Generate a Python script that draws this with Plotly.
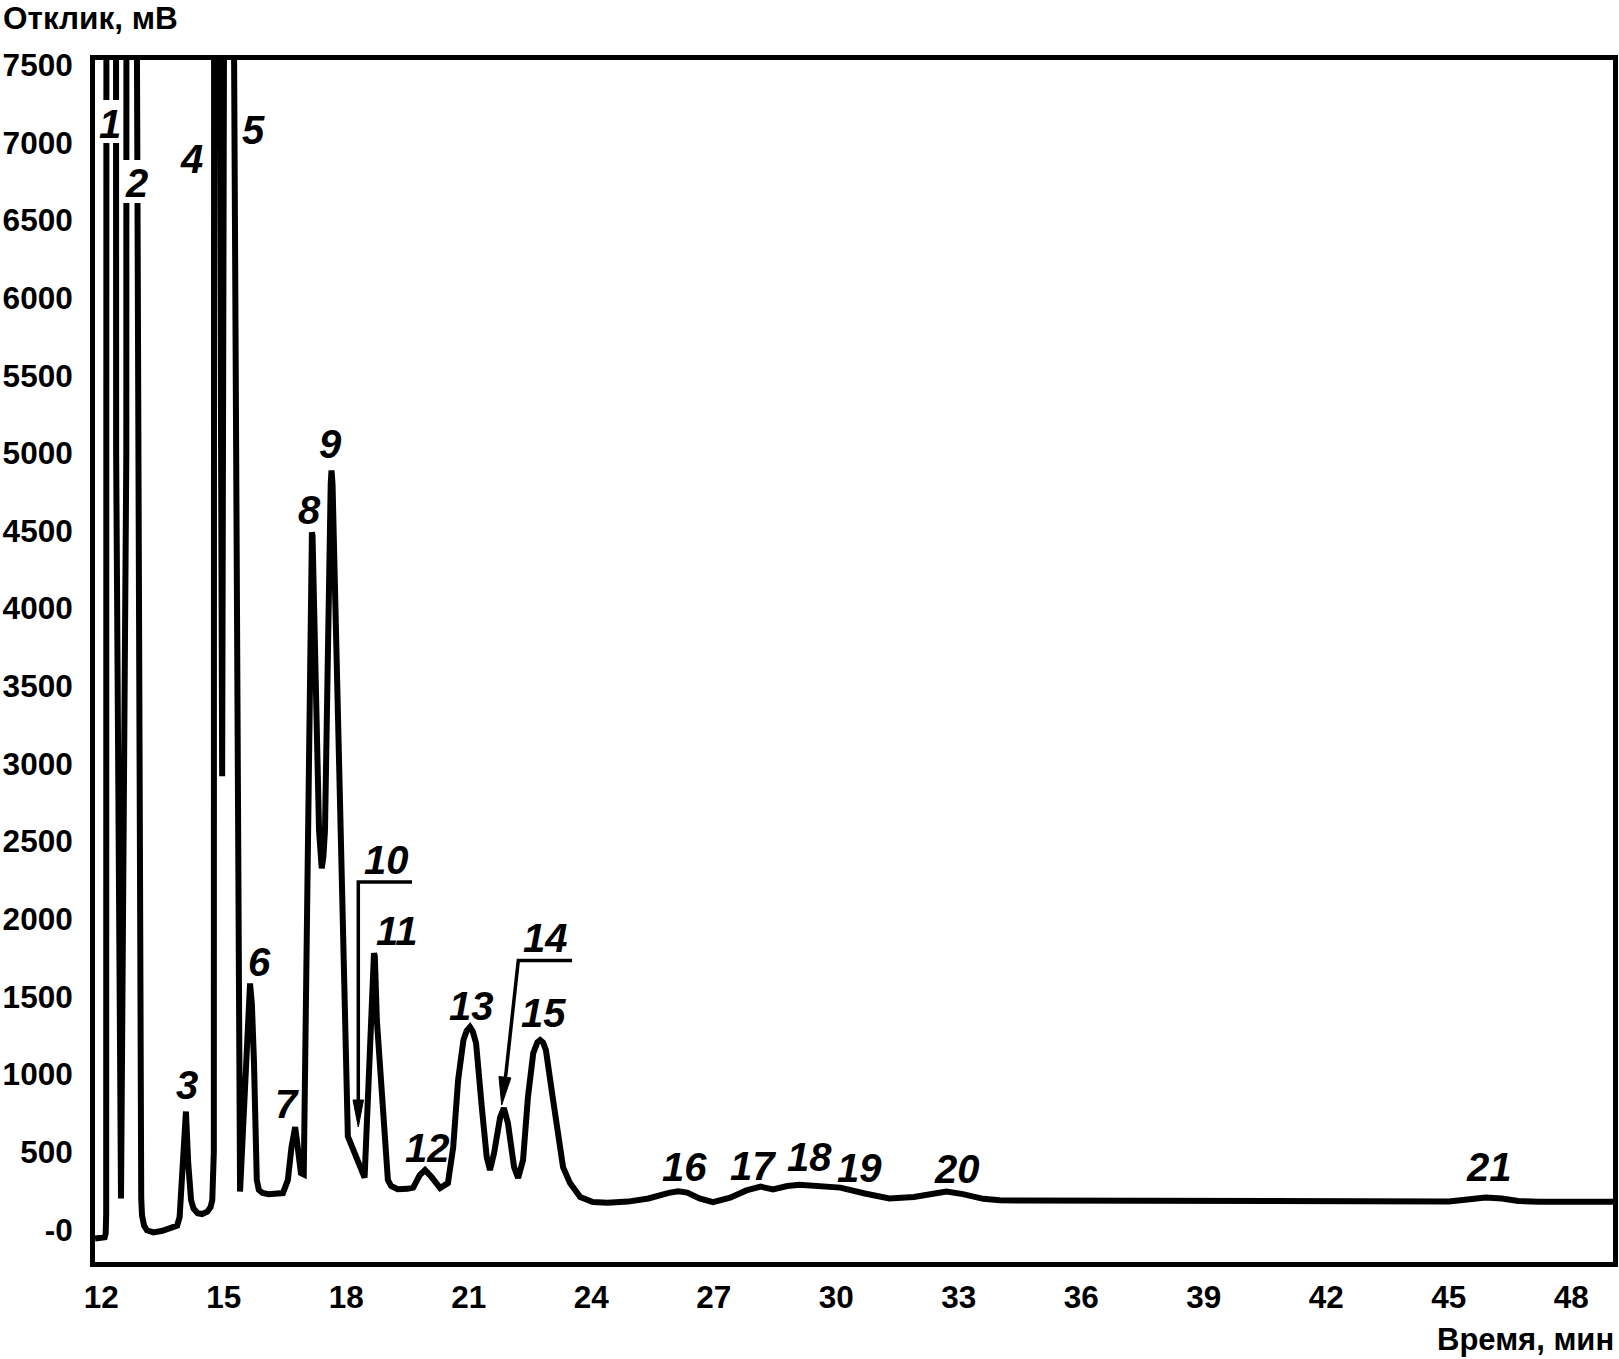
import math
import plotly.graph_objects as go

# ---------------- data ----------------
# chromatogram: retention time (min) and detector response (mV)
time_min = [
    11.85, 12.04, 12.085, 12.11, 12.122, 12.128, 12.25, 12.362, 12.366, 12.485,
    12.615, 12.618, 12.74, 12.855, 12.89, 12.972, 12.98, 13.0, 13.05, 13.12,
    13.28, 13.5, 13.75, 13.86, 13.92, 13.96, 14.0, 14.075, 14.13, 14.2,
    14.26, 14.36, 14.47, 14.6, 14.68, 14.72, 14.758, 14.765, 14.82, 14.885,
    14.962, 15.02, 15.12, 15.225, 15.40, 15.50, 15.55, 15.645, 15.69, 15.74,
    15.81, 15.86, 15.95, 16.1, 16.45, 16.57, 16.66, 16.75, 16.80, 16.89,
    16.96, 17.16, 17.175, 17.334, 17.36, 17.40, 17.44, 17.48, 17.62, 17.64,
    17.665, 18.04, 18.45, 18.68, 18.70, 18.75, 19.02, 19.1, 19.26, 19.5,
    19.64, 19.80, 19.93, 20.09, 20.30, 20.49, 20.62, 20.74, 20.87, 20.95,
    21.03, 21.1, 21.18, 21.32, 21.44, 21.52, 21.62, 21.77, 21.86, 21.96,
    22.11, 22.21, 22.33, 22.45, 22.58, 22.68, 22.75, 22.82, 22.89, 23.03,
    23.16, 23.31, 23.48, 23.73, 24.04, 24.4, 24.9, 25.4, 25.9, 26.13,
    26.35, 26.65, 26.98, 27.4, 27.8, 28.15, 28.45, 28.8, 29.1, 29.6,
    30.1, 30.7, 31.3, 31.9, 32.4, 32.7, 33.1, 33.6, 34.0, 37.0,
    41.0, 45.0, 45.4, 45.9, 46.3, 46.7, 47.2, 49.02,
]
response_mv = [
    -58, -58, -50, -25, 100, 9000, 12000, 9000, 5000, 200,
    5000, 9000, 12000, 9000, 5700, 500, 200, 90, 25, -5,
    -18, -8, 10, 25, 80, 300, 520, 760, 430, 190,
    135, 105, 100, 115, 145, 190, 500, 9000, 12000, 9000,
    2920, 9000, 12000, 9000, 245, 830, 1090, 1585, 1450, 1090,
    320, 255, 235, 228, 235, 318, 531, 660, 557, 364,
    355, 4490, 4470, 2572, 2400, 2327, 2400, 2572, 4800, 4889,
    4800, 600, 335, 1780, 1760, 1349, 319, 280, 260, 262,
    270, 351, 383, 338, 267, 299, 531, 962, 1220, 1280,
    1304, 1275, 1200, 788, 467, 383, 492, 724, 782, 685,
    402, 332, 447, 853, 1136, 1205, 1220, 1205, 1156, 898,
    640, 402, 299, 209, 177, 172, 180, 200, 236, 247,
    238, 200, 176, 205, 252, 276, 258, 280, 288, 282,
    270, 232, 200, 210, 238, 245, 228, 198, 188, 184,
    181, 181, 192, 207, 200, 184, 179, 179,
]

# peak numbers and where their labels sit (time, response)
peak_labels = [str(i) for i in range(1, 22)]
label_time = [12.215, 12.864, 14.113, 14.216, 15.74, 15.864, 16.56, 17.107, 17.613, 18.975,
              19.236, 19.99, 21.056, 22.868, 22.826, 26.29, 27.958, 29.355, 30.557, 32.958, 45.99]
label_resp = [7119, 6740, 930, 6892, 7083, 1722, 808, 4632, 5057, 2379,
              1922, 528, 1439, 1880, 1394, 402, 409, 467, 396, 389, 404]

x_tickvals = [12, 15, 18, 21, 24, 27, 30, 33, 36, 39, 42, 45, 48]
y_tickvals = [0, 500, 1000, 1500, 2000, 2500, 3000, 3500, 4000, 4500, 5000, 5500, 6000, 6500, 7000, 7500]
y_ticktext = ["-0"] + [str(v) for v in y_tickvals[1:]]

x_title = "Время, мин"
y_title = "Отклик, мВ"

# ---------------- layout geometry ----------------
W, H = 1619, 1359
ML, MR, MT, MB = 95, 6, 60, 97
PW, PH = W - ML - MR, H - MT - MB
X0, X1 = 11.848, 49.021
Y0, Y1 = -209, 7532


def px2t(x):
    return X0 + (x - ML) / PW * (X1 - X0)


def px2v(y):
    return Y1 - (y - MT) / PH * (Y1 - Y0)


FONT = "Liberation Sans, Arial, sans-serif"

fig = go.Figure()
fig.add_trace(go.Scatter(x=time_min, y=response_mv, mode="lines",
                         line=dict(color="black", width=6), hoverinfo="skip",
                         showlegend=False))

shapes = []
# white gaps in peak 1 and peak 2 lines where their numbers sit
for (x0, x1, y0, y1) in [(100.5, 121.5, 100, 143), (122, 143, 160, 203)]:
    shapes.append(dict(type="rect", xref="x", yref="y", x0=px2t(x0), x1=px2t(x1),
                       y0=px2v(y1), y1=px2v(y0), fillcolor="white", line=dict(width=0),
                       layer="above"))


def path(points, close=False):
    s = "M " + " L ".join(f"{px2t(x)},{px2v(y)}" for x, y in points)
    return s + (" Z" if close else "")


# leader lines for 10 and 14
shapes.append(dict(type="path", xref="x", yref="y", path=path([(412, 882), (358.3, 882), (358.3, 1106)]),
                   line=dict(color="black", width=3.5)))
shapes.append(dict(type="path", xref="x", yref="y", path=path([(572, 960.5), (518.3, 960.5), (505, 1082)]),
                   line=dict(color="black", width=3.5)))
# arrow heads
shapes.append(dict(type="path", xref="x", yref="y",
                   path=path([(353, 1100), (363.5, 1100), (358.3, 1127)], close=True),
                   fillcolor="black", line=dict(color="black", width=1)))
dx, dy = 501.7 - 518.3, 1105 - 961.7
ln = math.hypot(dx, dy)
ux, uy = dx / ln, dy / ln
bx, by = 501.7 - ux * 28, 1105 - uy * 28
nx, ny = -uy, ux
shapes.append(dict(type="path", xref="x", yref="y",
                   path=path([(bx + nx * 6, by + ny * 6), (bx - nx * 6, by - ny * 6), (501.7, 1105)], close=True),
                   fillcolor="black", line=dict(color="black", width=1)))

annotations = []
for lab, t, v in zip(peak_labels, label_time, label_resp):
    annotations.append(dict(x=t, y=v, xref="x", yref="y", text=lab, showarrow=False,
                            xanchor="center", yanchor="middle",
                            font=dict(family=FONT, size=40, color="black", style="italic",
                                      weight="bold")))

annotations.append(dict(x=(1 - ML) / PW, y=(H - MB - 18) / PH, xref="paper", yref="paper",
                        text=y_title, showarrow=False, xanchor="left", yanchor="middle",
                        font=dict(family=FONT, size=31.5, color="black", weight="bold")))
annotations.append(dict(x=(1616 - ML) / PW, y=(H - MB - 1339) / PH, xref="paper", yref="paper",
                        text=x_title, showarrow=False, xanchor="right", yanchor="middle",
                        font=dict(family=FONT, size=31, color="black", weight="bold")))

axis_common = dict(showgrid=False, zeroline=False, showline=True, linecolor="black",
                   linewidth=5, mirror=True, ticks="", automargin=False,
                   tickfont=dict(family=FONT, size=31.5, color="black", weight="bold"))

fig.update_layout(
    width=W, height=H,
    margin=dict(l=ML, r=MR, t=MT, b=MB, autoexpand=False),
    paper_bgcolor="white", plot_bgcolor="white",
    xaxis=dict(range=[X0, X1], tickvals=x_tickvals, ticktext=[str(v) for v in x_tickvals],
               ticklabelstandoff=3, **axis_common),
    yaxis=dict(range=[Y0, Y1], tickvals=y_tickvals, ticktext=y_ticktext,
               ticklabelstandoff=11, **axis_common),
    shapes=shapes,
    annotations=annotations,
    showlegend=False,
)

fig.write_html(
    "out.html",
    config={"displayModeBar": False, "staticPlot": True},
    post_script=("document.body.style.margin='0px';document.body.style.padding='0px';"
                 "document.body.style.overflow='hidden';"
                 "document.documentElement.style.overflow='hidden';"),
)
